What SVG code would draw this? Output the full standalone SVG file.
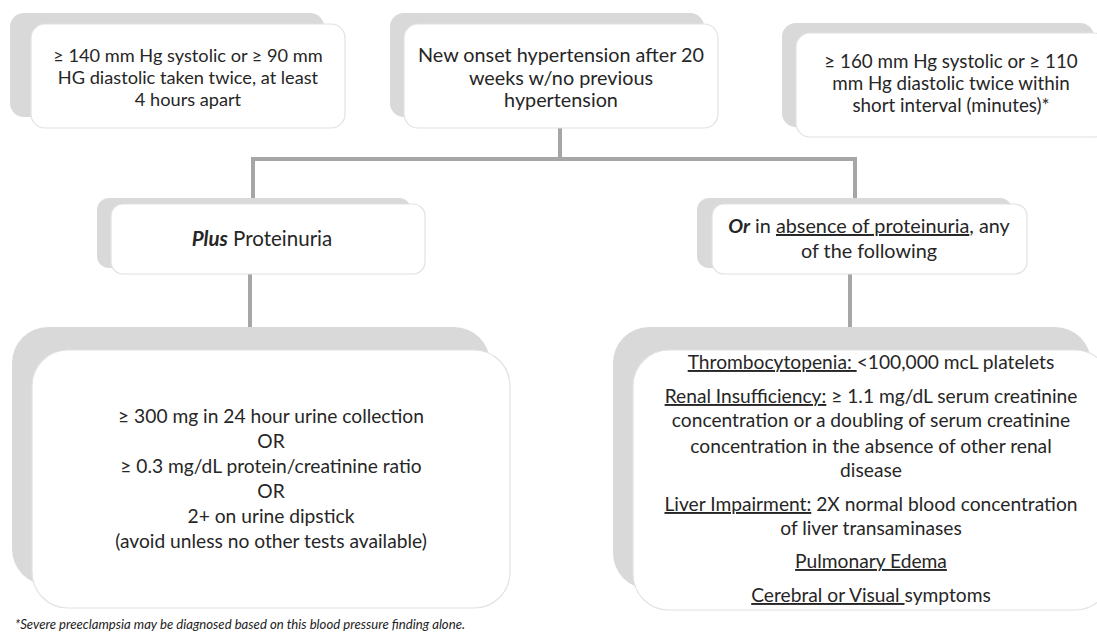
<svg xmlns="http://www.w3.org/2000/svg" width="1097" height="635" viewBox="0 0 1097 635">
<style>
.sh{fill:#d9d9d9;}
.bx{fill:#ffffff;stroke:#e2e2e2;stroke-width:1.2;}
.t{font-family:Lato,"Open Sans","Liberation Sans",sans-serif;font-size:19.2px;fill:#262626;text-anchor:middle;}
.u{text-decoration:underline;}
.c{fill:none;stroke:#a6a6a6;stroke-width:4;}
.fn{font-family:Lato,"Liberation Sans",sans-serif;font-size:14px;font-style:italic;fill:#222;}
</style>
<rect width="1097" height="635" fill="#ffffff"/>
<g id="connectors">
<path class="c" d="M560,128 V159 M253,159 H855 M253,157 V204 M855,157 V204 M250,274 V350 M850,274 V350"/>
</g>
<g id="node-bp140">
<rect class="sh" x="10" y="13" width="314" height="104" rx="14"/>
<rect class="bx" x="31" y="24" width="314" height="104" rx="14"/>
<text class="t" x="188" y="62" style="font-size:18.2px">≥ 140 mm Hg systolic or ≥ 90 mm</text>
<text class="t" x="188" y="84" style="font-size:18.2px">HG diastolic taken twice, at least</text>
<text class="t" x="188" y="106" style="font-size:18.2px">4 hours apart</text>
</g>
<g id="node-onset">
<rect class="sh" x="390" y="13" width="314" height="104" rx="14"/>
<rect class="bx" x="404" y="24" width="314" height="104" rx="14"/>
<text class="t" x="561" y="62" style="font-size:19.8px">New onset hypertension after 20</text>
<text class="t" x="561" y="85" style="font-size:19.8px">weeks w/no previous</text>
<text class="t" x="561" y="107" style="font-size:19.8px">hypertension</text>
</g>
<g id="node-bp160">
<rect class="sh" x="782" y="23" width="312" height="104" rx="14"/>
<rect class="bx" x="796" y="33" width="312" height="104" rx="14"/>
<text class="t" x="951" y="68" style="font-size:18.8px">≥ 160 mm Hg systolic or ≥ 110</text>
<text class="t" x="951" y="90" style="font-size:18.8px">mm Hg diastolic twice within</text>
<text class="t" x="951" y="112" style="font-size:18.8px">short interval (minutes)*</text>
</g>
<g id="node-plus">
<rect class="sh" x="97" y="198" width="314" height="70" rx="12"/>
<rect class="bx" x="111" y="204" width="314" height="70" rx="12"/>
<text class="t" x="262" y="246" style="font-size:20.5px"><tspan font-weight="bold" font-style="italic">Plus</tspan> Proteinuria</text>
</g>
<g id="node-or">
<rect class="sh" x="697" y="198" width="315" height="70" rx="12"/>
<rect class="bx" x="712" y="204" width="315" height="70" rx="12"/>
<text class="t" x="869" y="233" style="font-size:19.8px"><tspan font-weight="bold" font-style="italic">Or</tspan> in <tspan class="u">absence of proteinuria</tspan>, any</text>
<text class="t" x="869" y="258" style="font-size:19.8px">of the following</text>
</g>
<g id="node-proteinuria">
<rect class="sh" x="12" y="327" width="478" height="258" rx="36"/>
<rect class="bx" x="32" y="350" width="478" height="258" rx="36"/>
<text class="t" x="271" y="423">≥ 300 mg in 24 hour urine collection</text>
<text class="t" x="271" y="448">OR</text>
<text class="t" x="271" y="473">≥ 0.3 mg/dL protein/creatinine ratio</text>
<text class="t" x="271" y="498">OR</text>
<text class="t" x="271" y="523">2+ on urine dipstick</text>
<text class="t" x="271" y="548">(avoid unless no other tests available)</text>
</g>
<g id="node-features">
<rect class="sh" x="613" y="327" width="478" height="262" rx="36"/>
<rect class="bx" x="633" y="350" width="478" height="260" rx="36"/>
<text class="t" x="871" y="369"><tspan class="u">Thrombocytopenia: </tspan>&lt;100,000 mcL platelets</text>
<text class="t" x="871" y="403"><tspan class="u">Renal Insufficiency:</tspan> ≥ 1.1 mg/dL serum creatinine</text>
<text class="t" x="871" y="427">concentration or a doubling of serum creatinine</text>
<text class="t" x="871" y="453">concentration in the absence of other renal</text>
<text class="t" x="871" y="477">disease</text>
<text class="t" x="871" y="511"><tspan class="u">Liver Impairment:</tspan> 2X normal blood concentration</text>
<text class="t" x="871" y="535">of liver transaminases</text>
<text class="t" x="871" y="568"><tspan class="u">Pulmonary Edema</tspan></text>
<text class="t" x="871" y="602"><tspan class="u">Cerebral or Visual </tspan>symptoms</text>
</g>
<text class="fn" x="15" y="629" textLength="450" lengthAdjust="spacingAndGlyphs">*Severe preeclampsia may be diagnosed based on this blood pressure finding alone.</text>
</svg>
